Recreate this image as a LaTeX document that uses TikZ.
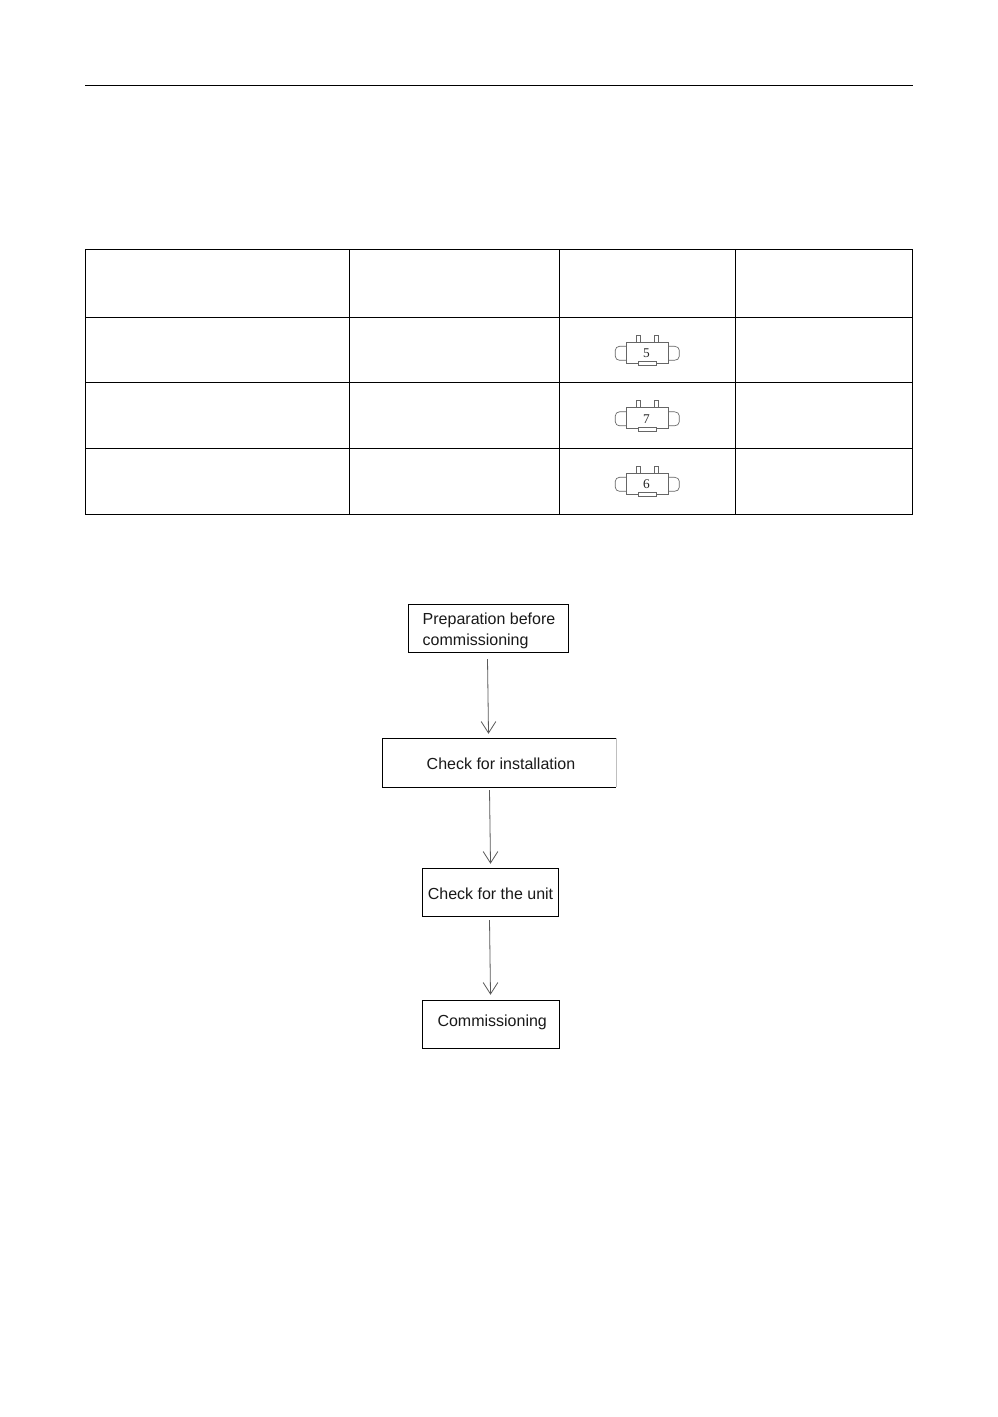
\documentclass[tikz,border=0pt]{standalone}
\usepackage{fontspec}
\setmainfont{Liberation Sans}
\newfontfamily\digitfont{Liberation Serif}
\tikzset{
  x=0.75pt,y=-0.75pt,
  rule/.style={line width=0.75pt,black},
  flowbox/.style={draw=black,line width=0.75pt,minimum height=36pt,inner sep=0pt},
  flowtext/.style={font=\fontsize{12}{15}\selectfont,text=black!90,inner sep=0pt,align=left},
  flow/.style={draw=black!65,line width=0.6pt},
  part/.style={draw=black!60,line width=0.5pt},
  pics/chip/.style={code={
    \draw[part] (-10.5,-11) rectangle (-6.2,-18);
    \draw[part] (7.8,-11) rectangle (12.2,-18);
    \draw[part] (-20.5,-11) rectangle (21.8,10);
    \draw[part,fill=white] (-8.2,8.5) rectangle (10.2,12.5);
    \draw[part] (-20.5,-7) -- (-27,-7) to[out=180,in=90] (-31.2,-3) -- (-31.2,3) to[out=-90,in=180] (-27,7) -- (-20.5,7);
    \draw[part] (21.8,-7) -- (28,-7) to[out=0,in=90] (32.8,-3) -- (32.8,3) to[out=-90,in=0] (28,7) -- (21.8,7);
    \node[font=\digitfont\fontsize{10}{10}\selectfont,text=black!85,inner sep=0pt] (-digit) at (0,0) {#1};
  }}
}
\begin{document}
\begin{tikzpicture}
\useasboundingbox[fill=white] (0,0) rectangle (998,1417);
% header rule
\draw[rule] (85,85.5) -- (913,85.5);
% table
\draw[rule] (85.5,249.5) rectangle (912.5,514.5);
\draw[rule] (85.5,317.5) -- (912.5,317.5);
\draw[rule] (85.5,382.5) -- (912.5,382.5);
\draw[rule] (85.5,448.5) -- (912.5,448.5);
\draw[rule] (349.5,249.5) -- (349.5,514.5);
\draw[rule] (559.5,249.5) -- (559.5,514.5);
\draw[rule] (735.5,249.5) -- (735.5,514.5);
% components
\pic (chipa) at (646.5,353.3) {chip={5}};
\pic (chipb) at (646.5,418.8) {chip={7}};
\pic (chipc) at (646.5,484.3) {chip={6}};
% flow boxes
\node[flowbox,minimum width=120pt,minimum height=36.5pt] (prep) at (488.5,628.5) {};
\node[flowtext] (prept) at (489,631) {Preparation before\\[0.4pt]commissioning};
\node[flowbox,draw=none,minimum width=175pt] (inst) at (499.3,762.7) {};
\node[flowtext] (instt) at (501,763.5) {Check for installation};
\draw[rule] (inst.north east) -- (inst.north west) -- (inst.south west) -- (inst.south east);
\draw[draw=black!25,line width=0.6pt] (inst.north east) -- (inst.south east);
\node[flowbox,minimum width=102pt] (unit) at (490.5,892.5) {};
\node[flowtext] (unitt) at (490.5,893.5) {Check for the unit};
\node[flowbox,minimum width=103pt] (comm) at (491,1024.5) {};
\node[flowtext] (commt) at (492.2,1022) {Commissioning};
% connectors
\coordinate (a1s) at (487.5,659);
\coordinate (a1e) at (488.5,733);
\coordinate (a2s) at (489.5,790);
\coordinate (a2e) at (490.5,863);
\coordinate (a3s) at (489.5,920);
\coordinate (a3e) at (490.5,994);
\draw[flow] (a1s) -- (a1e);
\draw[flow] ([xshift=-5.5pt,yshift=8.6pt]a1e) -- (a1e) -- ([xshift=5.5pt,yshift=8.6pt]a1e);
\draw[flow] (a2s) -- (a2e);
\draw[flow] ([xshift=-5.5pt,yshift=8.6pt]a2e) -- (a2e) -- ([xshift=5.5pt,yshift=8.6pt]a2e);
\draw[flow] (a3s) -- (a3e);
\draw[flow] ([xshift=-5.5pt,yshift=8.6pt]a3e) -- (a3e) -- ([xshift=5.5pt,yshift=8.6pt]a3e);
\end{tikzpicture}
\end{document}
